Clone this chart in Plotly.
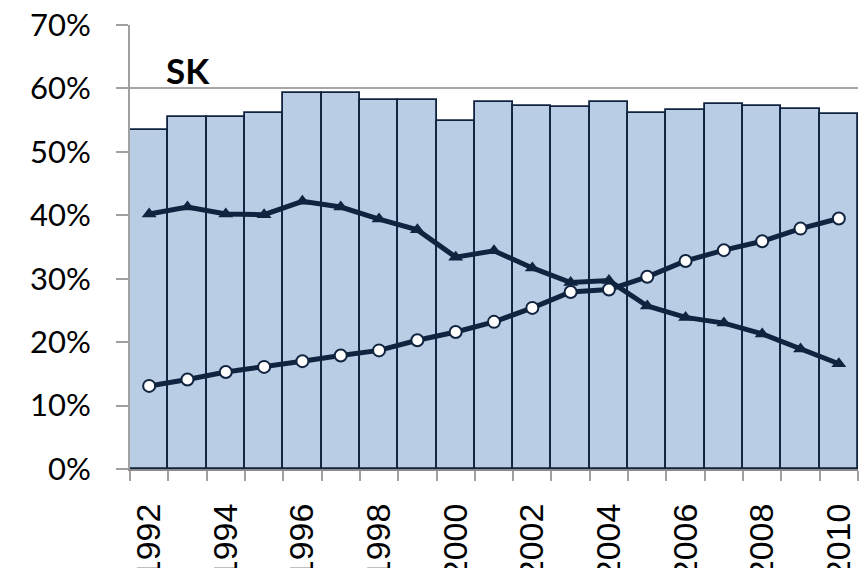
import plotly.graph_objects as go

years = list(range(1992, 2011))
total = [53.4, 55.5, 55.5, 56.2, 59.3, 59.3, 58.2, 58.2, 54.8, 57.8,
         57.3, 57.1, 57.9, 56.1, 56.6, 57.6, 57.2, 56.8, 56.0]
triangle_series = [40.2, 41.3, 40.2, 40.1, 42.2, 41.3, 39.4, 37.7, 33.4, 34.4,
                   31.7, 29.4, 29.7, 25.7, 23.9, 23.0, 21.3, 18.9, 16.6]
circle_series = [13.1, 14.1, 15.3, 16.1, 17.0, 17.9, 18.7, 20.3, 21.6, 23.2,
                 25.4, 27.9, 28.3, 30.3, 32.8, 34.5, 35.9, 37.9, 39.5]
label_years = list(range(1992, 2011, 2))
yticks = [0, 10, 20, 30, 40, 50, 60, 70]

navy = "#10243F"
fig = go.Figure()
fig.add_trace(go.Bar(x=years, y=total, width=1,
                     marker=dict(color="#B9CDE5", line=dict(color=navy, width=1.8)),
                     showlegend=False))
fig.add_trace(go.Scatter(x=years, y=triangle_series, mode="lines+markers",
                         line=dict(color=navy, width=5),
                         marker=dict(symbol="triangle-up", size=13, color=navy),
                         showlegend=False))
fig.add_trace(go.Scatter(x=years, y=circle_series, mode="lines+markers",
                         line=dict(color=navy, width=5),
                         marker=dict(symbol="circle", size=12, color="white",
                                     line=dict(color=navy, width=2)),
                         showlegend=False))

fig.add_annotation(text="<b>SK</b>", x=1992.4, y=62.9, xref="x", yref="y",
                   xanchor="left", yanchor="middle", showarrow=False,
                   font=dict(family="Lato", size=35, color="black"))

fig.update_layout(
    width=863, height=568,
    margin=dict(l=130, r=5, t=25, b=99, autoexpand=False),
    paper_bgcolor="white", plot_bgcolor="white",
    bargap=0,
)
fig.update_xaxes(range=[1991.5, 2010.5], tickmode="array", tickvals=label_years,
                 ticktext=[str(y) for y in label_years], tickangle=-90,
                 ticks="", showgrid=False, zeroline=False, automargin=False,
                 showline=True, linecolor="#8C8C8C", linewidth=2,
                 ticklabelstandoff=19,
                 tickfont=dict(family="Liberation Sans", size=34, color="black"),
                 minor=dict(tickmode="linear", tick0=1991.5, dtick=1, ticks="outside",
                            ticklen=10, tickwidth=2, tickcolor="#A0A0A0", showgrid=False))
fig.update_yaxes(range=[0, 70], tickmode="array", tickvals=yticks,
                 ticktext=[f"{v}%" for v in yticks], automargin=False,
                 ticks="outside", ticklen=12, tickwidth=2, tickcolor="#A0A0A0",
                 showgrid=True, gridcolor="#A6A6A6", gridwidth=2,
                 zeroline=False, showline=True, linecolor="#A0A0A0", linewidth=2,
                 ticklabelstandoff=19,
                 tickfont=dict(family="Lato", size=31, color="black"))

fig.write_html("out.html", config={"displayModeBar": False},
               post_script="document.body.style.margin='0';document.body.style.overflow='hidden';")
